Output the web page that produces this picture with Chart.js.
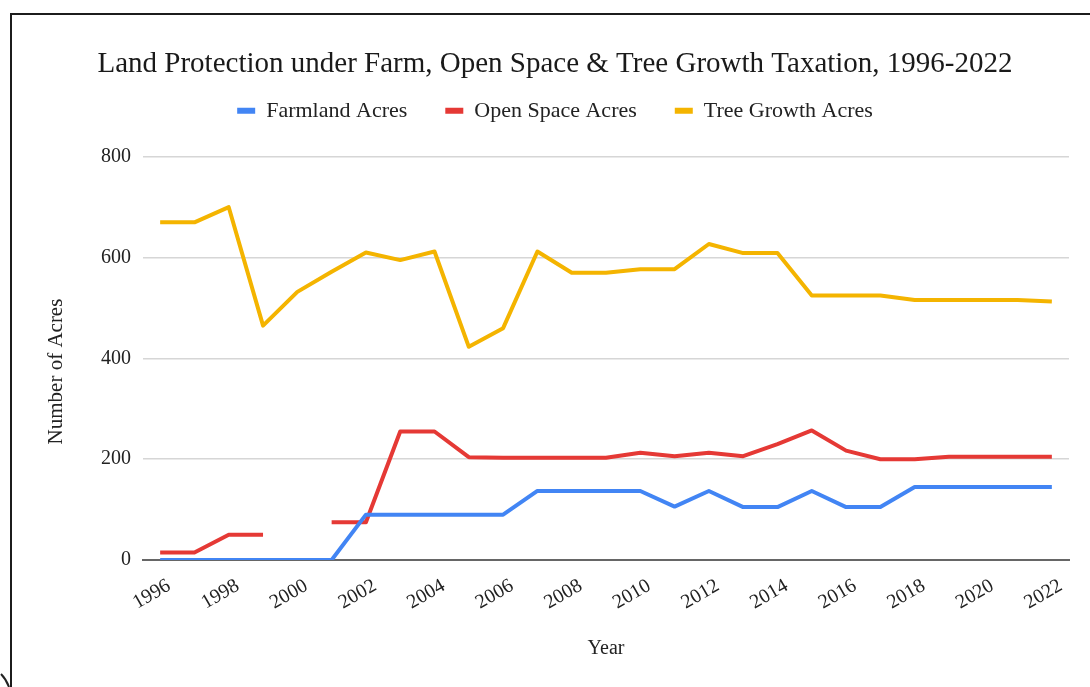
<!DOCTYPE html>
<html>
<head>
<meta charset="utf-8">
<script src="https://cdn.jsdelivr.net/npm/chart.js@4/dist/chart.umd.min.js"></script>
<style>
  html, body { margin: 0; padding: 0; background: #fff; }
  #wrap { position: relative; width: 1090px; height: 687px; overflow: hidden; }
  #frame { position: absolute; left: 10px; top: 13px; width: 1200px; height: 800px;
           border-left: 2px solid #1c1c1c; border-top: 2px solid #1c1c1c; }
  #corner { position: absolute; left: 0; top: 670px; }
  canvas { position: absolute; left: 0; top: 0; }
</style>
</head>
<body>
<div id="wrap">
  <div id="frame"></div>
  <svg id="corner" width="12" height="17"><path d="M1 4 Q6 9 9 17" stroke="#222" stroke-width="2" fill="none"/></svg>
  <canvas id="chart" width="1090" height="687"></canvas>
</div>
<script>
// Years on the horizontal axis
const years = ['1996','1997','1998','1999','2000','2001','2002','2003','2004','2005','2006','2007','2008',
               '2009','2010','2011','2012','2013','2014','2015','2016','2017','2018','2019','2020','2021','2022'];

// Acres enrolled in each program per year (null = no figure reported)
const farmlandAcres = [0, 0, 0, 0, 0, 0, 90, 90, 90, 90, 90, 137, 137, 137, 137, 106, 137, 105, 105, 137,
                       105, 105, 145, 145, 145, 145, 145];
const openSpaceAcres = [15, 15, 50, 50, null, 75, 75, 255, 255, 204, 203, 203, 203, 203, 213, 206, 213, 206,
                        230, 257, 217, 200, 200, 205, 205, 205, 205];
const treeGrowthAcres = [670, 670, 700, 465, 532, 572, 610, 595, 612, 423, 460, 612, 570, 570, 577, 577, 627,
                         609, 609, 525, 525, 525, 516, 516, 516, 516, 513];

// Value axis ticks
const yTicks = [0, 200, 400, 600, 800];

const serif = "'Liberation Serif', 'Times New Roman', serif";

// Leaves a gap between the legend row and the plot
const legendGap = {
  id: 'legendGap',
  beforeUpdate(chart) {
    const lg = chart.legend;
    if (lg && !lg.__gapAdded) {
      const fit = lg.fit.bind(lg);
      lg.fit = function () { fit(); this.height += 25; };
      lg.__gapAdded = true;
    }
  }
};

new Chart(document.getElementById('chart'), {
  type: 'line',
  data: {
    labels: years,
    datasets: [
      { label: 'Farmland Acres', data: farmlandAcres, borderColor: '#4285f4', backgroundColor: '#4285f4' },
      { label: 'Open Space Acres', data: openSpaceAcres, borderColor: '#e53935', backgroundColor: '#e53935' },
      { label: 'Tree Growth Acres', data: treeGrowthAcres, borderColor: '#f4b400', backgroundColor: '#f4b400' }
    ]
  },
  plugins: [legendGap],
  options: {
    responsive: false,
    animation: false,
    spanGaps: false,
    layout: { padding: { top: 0, left: 41, right: 21, bottom: 0 } },
    elements: {
      line: { borderWidth: 4, tension: 0, borderCapStyle: 'butt', borderJoinStyle: 'round' },
      point: { radius: 0, hoverRadius: 0 }
    },
    plugins: {
      title: {
        display: true,
        text: 'Land Protection under Farm, Open Space & Tree Growth Taxation, 1996-2022',
        color: '#1a1a1a',
        font: { family: serif, size: 29, weight: 'normal' },
        padding: { top: 47, bottom: -20 }
      },
      legend: {
        display: true,
        labels: {
          color: '#222',
          font: { family: serif, size: 22 },
          boxWidth: 18,
          boxHeight: 6,
          padding: 38,
          generateLabels(chart) {
            return Chart.defaults.plugins.legend.labels.generateLabels(chart).map(it => ({ ...it, lineWidth: 0 }));
          }
        }
      },
      tooltip: { enabled: false }
    },
    scales: {
      x: {
        type: 'category',
        offset: true,
        grid: { display: false, drawTicks: false },
        border: { display: true, color: '#666', width: 2 },
        ticks: {
          color: '#222',
          font: { family: serif, size: 20 },
          autoSkip: false,
          minRotation: 30,
          maxRotation: 30,
          padding: 14,
          labelOffset: 9,
          callback(value, index) { return index % 2 === 0 ? years[index] : ''; }
        },
        title: {
          display: true,
          text: 'Year',
          color: '#222',
          font: { family: serif, size: 20 },
          padding: { top: 0, bottom: 26 }
        },
        afterFit(scale) { scale.height = 127; }
      },
      y: {
        min: 0,
        max: 800,
        afterBuildTicks(scale) { scale.ticks = yTicks.map(v => ({ value: v })); },
        grid: {
          drawTicks: false,
          color: ctx => (ctx.tick && ctx.tick.value === 0) ? 'rgba(0,0,0,0)' : '#d6d6d6',
          lineWidth: 1.5
        },
        border: { display: false },
        ticks: {
          color: '#222',
          font: { family: serif, size: 20 },
          padding: 12
        },
        title: {
          display: true,
          // trailing em space keeps the label centred a little below the plot middle
          text: 'Number of Acres\u2003 ',
          color: '#222',
          font: { family: serif, size: 21 },
          padding: { top: 3, bottom: 0 }
        },
        afterFit(scale) { scale.width = 102; }
      }
    }
  }
});
</script>
</body>
</html>
